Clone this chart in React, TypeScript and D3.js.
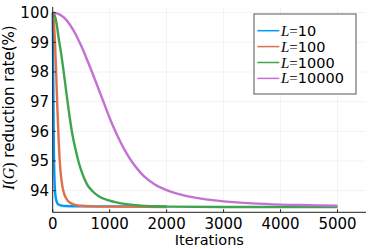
import React from 'react';
import * as d3 from 'd3';

// iteration / I(G) reduction rate (%)
const itersL10 = [0, 5, 10, 15, 20, 30, 40, 60, 80, 100, 150, 200, 500, 1000, 2000];
const rateL10 = [100, 99.0, 97.8, 96.6, 95.5, 94.5, 94.0, 93.7, 93.58, 93.53, 93.5, 93.48, 93.47, 93.47, 93.47];

const itersL100 = [0, 20, 40, 60, 80, 100, 120, 140, 170, 200, 250, 300, 400, 500, 700, 1000, 2000];
const rateL100 = [100, 99.7, 99.0, 98.0, 96.9, 95.9, 95.1, 94.6, 94.15, 93.9, 93.7, 93.6, 93.52, 93.49, 93.47, 93.46, 93.45];

const itersL1000 = [0, 25, 50, 75, 100, 150, 200, 250, 300, 350, 400, 450, 500, 600, 700, 800, 1000, 1200, 1500, 2000, 3000, 5000];
const rateL1000 = [100, 99.95, 99.8, 99.55, 99.2, 98.6, 97.9, 97.15, 96.45, 95.85, 95.4, 95.0, 94.68, 94.22, 93.98, 93.82, 93.66, 93.57, 93.5, 93.46, 93.45, 93.45];

const itersL10000 = [0, 100, 200, 300, 400, 500, 600, 700, 800, 900, 1000, 1100, 1200, 1300, 1400, 1500, 1600, 1800, 2000, 2200, 2400, 2600, 2800, 3000, 3500, 4000, 4500, 5000];
const rateL10000 = [100, 99.96, 99.83, 99.6, 99.28, 98.88, 98.43, 97.95, 97.45, 96.95, 96.45, 96.0, 95.6, 95.25, 94.95, 94.7, 94.49, 94.2, 94.02, 93.89, 93.8, 93.73, 93.68, 93.64, 93.57, 93.53, 93.51, 93.49];

const seriesNames = ['10', '100', '1000', '10000'];
const seriesColors = ['#009AFA', '#E36F47', '#3EA44E', '#C371D2'];

const xTicks = [0, 1000, 2000, 3000, 4000, 5000];
const yTicks = [94, 95, 96, 97, 98, 99, 100];

const W = 374;
const H = 249;
const left = 52.7;
const right = 366;
const top = 7;
const bottom = 212.3;

const sans = 'DejaVu Sans';
const serif = 'Liberation Serif';

const App: React.FC = () => {
  const x = d3.scaleLinear().domain([0, 5500]).range([left, right]);
  const y = d3.scaleLinear().domain([93.27, 100.19]).range([bottom, top]);

  const all = [
    itersL10.map((t, i) => [t, rateL10[i]]),
    itersL100.map((t, i) => [t, rateL100[i]]),
    itersL1000.map((t, i) => [t, rateL1000[i]]),
    itersL10000.map((t, i) => [t, rateL10000[i]]),
  ] as [number, number][][];

  const line = d3.line<[number, number]>()
    .x(d => x(d[0]))
    .y(d => y(d[1]))
    .curve(d3.curveMonotoneX);

  const legX = 254;
  const legY = 14;
  const rowH = 15.9;

  return (
    <svg width={W} height={H} style={{ position: 'absolute', left: 0, top: 0, background: '#fff' }}>
      {/* grid */}
      {xTicks.map(t => (
        <line key={'gx' + t} x1={x(t)} x2={x(t)} y1={top} y2={bottom} stroke="#000" strokeOpacity={0.1} strokeWidth={0.5} />
      ))}
      {yTicks.map(t => (
        <line key={'gy' + t} x1={left} x2={right} y1={y(t)} y2={y(t)} stroke="#000" strokeOpacity={0.1} strokeWidth={0.5} />
      ))}

      {/* series */}
      {all.map((d, i) => (
        <path key={i} d={line(d) || ''} fill="none" stroke={seriesColors[i]} strokeWidth={2.4} />
      ))}

      {/* axes */}
      <line x1={left} x2={left} y1={top} y2={bottom} stroke="#222" strokeWidth={1} />
      <line x1={left} x2={right} y1={bottom} y2={bottom} stroke="#222" strokeWidth={1} />
      {xTicks.map(t => (
        <line key={'tx' + t} x1={x(t)} x2={x(t)} y1={bottom} y2={bottom - 3} stroke="#222" strokeWidth={1} />
      ))}
      {yTicks.map(t => (
        <line key={'ty' + t} x1={left} x2={left + 3} y1={y(t)} y2={y(t)} stroke="#222" strokeWidth={1} />
      ))}

      {/* tick labels */}
      {xTicks.map(t => (
        <text key={'lx' + t} x={x(t)} y={229} textAnchor="middle" fontFamily={sans} fontSize={15} fill="#000">{t}</text>
      ))}
      {yTicks.map(t => (
        <text key={'ly' + t} x={49} y={y(t) + 5.4} textAnchor="end" fontFamily={sans} fontSize={15} fill="#000">{t}</text>
      ))}

      {/* axis labels */}
      <text x={(left + right) / 2} y={245.3} textAnchor="middle" fontFamily={sans} fontSize={14.5} fill="#000">Iterations</text>
      <text transform={`translate(14,${(top + bottom) / 2 - 2}) rotate(-90)`} textAnchor="middle" fontFamily={sans} fontSize={15} fill="#000">
        <tspan fontFamily={serif} fontStyle="italic" fontSize={16}>I</tspan>
        <tspan fontFamily={serif} fontSize={16}>(</tspan>
        <tspan fontFamily={serif} fontStyle="italic" fontSize={16}>G</tspan>
        <tspan fontFamily={serif} fontSize={16}>)</tspan>
        <tspan> reduction rate(%)</tspan>
      </text>

      {/* legend */}
      <rect x={legX} y={legY} width={102} height={80} fill="#fff" stroke="#555" strokeWidth={1} />
      {seriesNames.map((n, i) => {
        const cy = 30.7 + i * rowH;
        return (
          <g key={'lg' + n}>
            <line x1={257.3} x2={279.3} y1={cy} y2={cy} stroke={seriesColors[i]} strokeWidth={1.5} />
            <text x={281} y={cy + 5} fontFamily={sans} fontSize={14.5} fill="#000">
              <tspan fontFamily={serif} fontStyle="italic" fontSize={15}>L</tspan>
              <tspan fontFamily={serif} fontSize={15}>=</tspan>
              <tspan>{n}</tspan>
            </text>
          </g>
        );
      })}
    </svg>
  );
};

export default App;
